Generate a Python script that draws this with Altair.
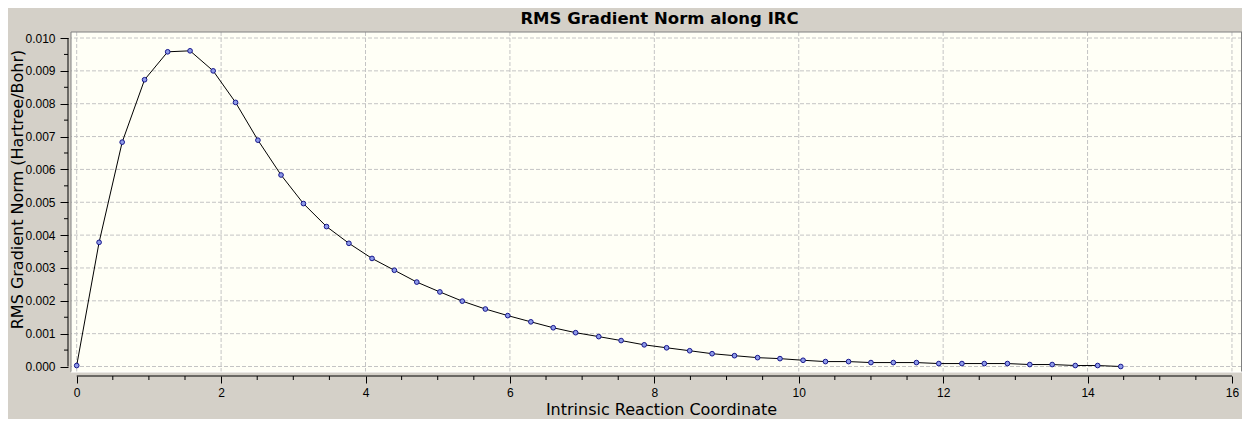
import altair as alt
import pandas as pd

# ---- data ----
irc = [0.00, 0.31, 0.63, 0.94, 1.26, 1.57, 1.89, 2.20, 2.51, 2.83,
       3.14, 3.46, 3.77, 4.09, 4.40, 4.71, 5.03, 5.34, 5.66, 5.97,
       6.29, 6.60, 6.91, 7.23, 7.54, 7.86, 8.17, 8.49, 8.80, 9.11,
       9.43, 9.74, 10.06, 10.37, 10.69, 11.00, 11.31, 11.63, 11.94, 12.26,
       12.57, 12.89, 13.20, 13.51, 13.83, 14.14, 14.46]
rms = [0.00003, 0.00378, 0.00683, 0.00873, 0.00958, 0.00961, 0.00900, 0.00804, 0.00689, 0.00583,
       0.00496, 0.00426, 0.00375, 0.00329, 0.00293, 0.00257, 0.00227, 0.00199, 0.00175, 0.00155,
       0.00136, 0.00118, 0.00103, 0.00091, 0.00079, 0.00066, 0.00057, 0.00048, 0.00039, 0.00033,
       0.00027, 0.00024, 0.00019, 0.00015, 0.00015, 0.00012, 0.00012, 0.00012, 0.00009, 0.00009,
       0.00009, 0.00009, 0.00006, 0.00006, 0.00003, 0.00003, 0.00000]

x_ticks = [0, 2, 4, 6, 8, 10, 12, 14, 16]
x_minor = [0.5, 1, 1.5, 2.5, 3, 3.5, 4.5, 5, 5.5, 6.5, 7, 7.5, 8.5, 9, 9.5,
           10.5, 11, 11.5, 12.5, 13, 13.5, 14.5, 15, 15.5]
y_ticks = [0.000, 0.001, 0.002, 0.003, 0.004, 0.005, 0.006, 0.007, 0.008, 0.009, 0.010]
y_minor = [0.0005, 0.0015, 0.0025, 0.0035, 0.0045, 0.0055, 0.0065, 0.0075, 0.0085, 0.0095]

title_text = "RMS Gradient Norm along IRC"
x_title = "Intrinsic Reaction Coordinate"
y_title = "RMS Gradient Norm (Hartree/Bohr)"

W, H = 1171, 340

df = pd.DataFrame({"x": irc, "y": rms})
xs = alt.Scale(domain=[-0.0789, 16.139], nice=False, zero=False)
ys = alt.Scale(domain=[-0.000167, 0.010183], nice=False, zero=False)

xaxis = alt.Axis(values=x_ticks, format="d", grid=False, domain=False, offset=4,
                 tickSize=7, tickColor="black", tickWidth=1,
                 labelFont="Liberation Sans", labelFontSize=12, labelColor="black",
                 labelPadding=4, labelFlush=False, labelOverlap=False,
                 title=x_title, titleFont="DejaVu Sans", titleFontSize=16,
                 titleFontWeight="normal", titleColor="black",
                 titleBaseline="alphabetic", titleX=590, titleY=38.5)
yaxis = alt.Axis(values=y_ticks, format=".3f", grid=False, domain=False, offset=3,
                 tickSize=8, tickColor="black", tickWidth=1,
                 labelFont="Liberation Sans", labelFontSize=12, labelColor="black",
                 labelPadding=5, labelFlush=False, labelOverlap=False,
                 title=y_title, titleFont="DejaVu Sans", titleFontSize=16,
                 titleFontWeight="normal", titleColor="black", titleAngle=270,
                 titleBaseline="alphabetic", titleX=-46, titleY=157)

grid_color = "#C4C4C4"
vgrid = alt.Chart(pd.DataFrame({"x": x_ticks})).mark_rule(
    color=grid_color, strokeDash=[4, 2], strokeWidth=1
).encode(x=alt.X("x:Q", scale=xs, axis=xaxis))
hgrid = alt.Chart(pd.DataFrame({"y": y_ticks})).mark_rule(
    color=grid_color, strokeDash=[4, 2], strokeWidth=1
).encode(y=alt.Y("y:Q", scale=ys, axis=yaxis))

xminor = alt.Chart(pd.DataFrame({"x": x_minor})).mark_rule(color="black").encode(
    x=alt.X("x:Q", scale=xs, axis=xaxis), y=alt.value(H + 4), y2=alt.value(H + 8))
yminor = alt.Chart(pd.DataFrame({"y": y_minor})).mark_rule(color="black").encode(
    y=alt.Y("y:Q", scale=ys, axis=yaxis), x=alt.value(-3), x2=alt.value(-7))

xdom = alt.Chart(pd.DataFrame({"x": [x_ticks[0]], "x2": [x_ticks[-1]]})).mark_rule(color="black").encode(
    x=alt.X("x:Q", scale=xs, axis=xaxis), x2="x2:Q", y=alt.value(H + 4))
ydom = alt.Chart(pd.DataFrame({"y": [y_ticks[0]], "y2": [y_ticks[-1]]})).mark_rule(color="black").encode(
    y=alt.Y("y:Q", scale=ys, axis=yaxis), y2="y2:Q", x=alt.value(-3))

one = pd.DataFrame({"d": [0]})
border_top = alt.Chart(one).mark_rule(color="#808080").encode(
    x=alt.value(0), x2=alt.value(W), y=alt.value(0))
border_left = alt.Chart(one).mark_rule(color="#808080").encode(
    x=alt.value(0), y=alt.value(0), y2=alt.value(H))
border_right = alt.Chart(one).mark_rule(color="#808080").encode(
    x=alt.value(W - 0.5), y=alt.value(0), y2=alt.value(H))
border_bottom = alt.Chart(one).mark_rule(color="#FFFFFF").encode(
    x=alt.value(0), x2=alt.value(W), y=alt.value(H))

title = alt.Chart(one).mark_text(font="DejaVu Sans", fontSize=16.5, fontWeight="bold",
                                 color="black", align="center", baseline="alphabetic").encode(
    x=alt.value(588.5), y=alt.value(-8.5), text=alt.value(title_text))

line = alt.Chart(df).mark_line(color="black", strokeWidth=1).encode(
    x=alt.X("x:Q", scale=xs, axis=xaxis),
    y=alt.Y("y:Q", scale=ys, axis=yaxis))
points = alt.Chart(df).mark_point(filled=True, fill="#8E9BE8", stroke="#16168C",
                                  strokeWidth=1, size=22, opacity=1).encode(
    x=alt.X("x:Q", scale=xs, axis=xaxis),
    y=alt.Y("y:Q", scale=ys, axis=yaxis))

chart = alt.layer(
    vgrid, hgrid, xminor, yminor, xdom, ydom,
    border_top, border_left, border_right, border_bottom,
    title, line, points
).properties(
    width=W, height=H,
    autosize=alt.AutoSizeParams(type="none"),
    padding={"left": 63, "top": 24, "right": 0, "bottom": 47},
).configure(background="#D4D0C8").configure_view(fill="#FFFFF6", stroke=None)

chart.save("out.html", embed_options={"renderer": "svg", "actions": False})
